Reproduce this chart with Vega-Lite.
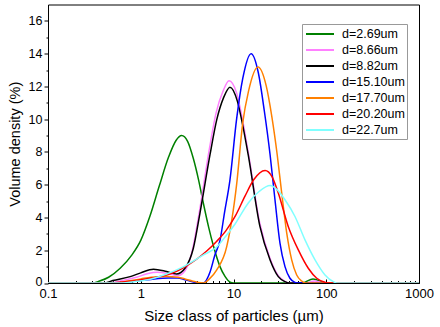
{
  "$schema": "https://vega.github.io/schema/vega-lite/v6.json",
  "autosize": "none",
  "width": 371,
  "height": 278.5,
  "padding": {"left": 48, "top": 4.5, "right": 21, "bottom": 44},
  "background": "white",
  "config": {
    "font": "Liberation Sans",
    "view": {"stroke": "black", "strokeWidth": 1},
    "axis": {"grid": false, "domainColor": "black", "tickColor": "black", "labelColor": "black", "titleColor": "black", "labelFont": "Liberation Sans", "titleFont": "Liberation Sans", "titleFontWeight": "normal"}
  },
  "data": {"values": [
    {"s": "d=2.69um", "x": 0.1, "y": 0},
    {"s": "d=2.69um", "x": 0.3, "y": 0},
    {"s": "d=2.69um", "x": 0.36, "y": 0.12},
    {"s": "d=2.69um", "x": 0.45, "y": 0.35},
    {"s": "d=2.69um", "x": 0.6, "y": 0.9},
    {"s": "d=2.69um", "x": 0.8, "y": 1.7},
    {"s": "d=2.69um", "x": 1.0, "y": 2.6},
    {"s": "d=2.69um", "x": 1.26, "y": 4.1},
    {"s": "d=2.69um", "x": 1.58, "y": 5.9},
    {"s": "d=2.69um", "x": 2.0, "y": 7.7},
    {"s": "d=2.69um", "x": 2.4, "y": 8.7},
    {"s": "d=2.69um", "x": 2.76, "y": 9.0},
    {"s": "d=2.69um", "x": 3.2, "y": 8.65},
    {"s": "d=2.69um", "x": 3.69, "y": 7.6},
    {"s": "d=2.69um", "x": 4.2, "y": 6.3},
    {"s": "d=2.69um", "x": 4.72, "y": 4.9},
    {"s": "d=2.69um", "x": 5.4, "y": 3.4},
    {"s": "d=2.69um", "x": 6.05, "y": 2.3},
    {"s": "d=2.69um", "x": 7.15, "y": 1.0},
    {"s": "d=2.69um", "x": 8.1, "y": 0.4},
    {"s": "d=2.69um", "x": 9.2, "y": 0.05},
    {"s": "d=2.69um", "x": 10, "y": 0},
    {"s": "d=2.69um", "x": 55, "y": 0},
    {"s": "d=2.69um", "x": 72, "y": 0.25},
    {"s": "d=2.69um", "x": 100, "y": 0},
    {"s": "d=2.69um", "x": 1000, "y": 0},

    {"s": "d=8.66um", "x": 0.1, "y": 0},
    {"s": "d=8.66um", "x": 0.45, "y": 0},
    {"s": "d=8.66um", "x": 0.6, "y": 0.12},
    {"s": "d=8.66um", "x": 0.9, "y": 0.35},
    {"s": "d=8.66um", "x": 1.2, "y": 0.58},
    {"s": "d=8.66um", "x": 1.5, "y": 0.65},
    {"s": "d=8.66um", "x": 1.9, "y": 0.6},
    {"s": "d=8.66um", "x": 2.5, "y": 0.45},
    {"s": "d=8.66um", "x": 3.0, "y": 0.75},
    {"s": "d=8.66um", "x": 3.6, "y": 2.0},
    {"s": "d=8.66um", "x": 4.3, "y": 4.4},
    {"s": "d=8.66um", "x": 5.5, "y": 8.2},
    {"s": "d=8.66um", "x": 6.5, "y": 10.4},
    {"s": "d=8.66um", "x": 7.7, "y": 11.7},
    {"s": "d=8.66um", "x": 8.95, "y": 12.35},
    {"s": "d=8.66um", "x": 10.8, "y": 11.6},
    {"s": "d=8.66um", "x": 12.4, "y": 10.1},
    {"s": "d=8.66um", "x": 14.4, "y": 8.0},
    {"s": "d=8.66um", "x": 19.3, "y": 3.6},
    {"s": "d=8.66um", "x": 24.8, "y": 1.5},
    {"s": "d=8.66um", "x": 30.4, "y": 0.45},
    {"s": "d=8.66um", "x": 35.9, "y": 0.1},
    {"s": "d=8.66um", "x": 40, "y": 0},
    {"s": "d=8.66um", "x": 60, "y": 0},
    {"s": "d=8.66um", "x": 75, "y": 0.12},
    {"s": "d=8.66um", "x": 95, "y": 0},
    {"s": "d=8.66um", "x": 1000, "y": 0},

    {"s": "d=8.82um", "x": 0.1, "y": 0},
    {"s": "d=8.82um", "x": 0.4, "y": 0},
    {"s": "d=8.82um", "x": 0.5, "y": 0.15},
    {"s": "d=8.82um", "x": 0.77, "y": 0.39},
    {"s": "d=8.82um", "x": 1.0, "y": 0.62},
    {"s": "d=8.82um", "x": 1.37, "y": 0.84},
    {"s": "d=8.82um", "x": 1.9, "y": 0.7},
    {"s": "d=8.82um", "x": 2.44, "y": 0.55},
    {"s": "d=8.82um", "x": 3.0, "y": 0.9},
    {"s": "d=8.82um", "x": 3.69, "y": 2.12},
    {"s": "d=8.82um", "x": 4.36, "y": 4.3},
    {"s": "d=8.82um", "x": 5.58, "y": 7.83},
    {"s": "d=8.82um", "x": 6.6, "y": 9.97},
    {"s": "d=8.82um", "x": 7.8, "y": 11.3},
    {"s": "d=8.82um", "x": 9.16, "y": 11.95},
    {"s": "d=8.82um", "x": 11.0, "y": 11.1},
    {"s": "d=8.82um", "x": 12.5, "y": 9.7},
    {"s": "d=8.82um", "x": 14.4, "y": 7.83},
    {"s": "d=8.82um", "x": 19.3, "y": 3.44},
    {"s": "d=8.82um", "x": 24.8, "y": 1.41},
    {"s": "d=8.82um", "x": 30.4, "y": 0.39},
    {"s": "d=8.82um", "x": 35.9, "y": 0.08},
    {"s": "d=8.82um", "x": 40, "y": 0},
    {"s": "d=8.82um", "x": 1000, "y": 0},

    {"s": "d=15.10um", "x": 0.1, "y": 0},
    {"s": "d=15.10um", "x": 0.5, "y": 0},
    {"s": "d=15.10um", "x": 0.7, "y": 0.05},
    {"s": "d=15.10um", "x": 1.0, "y": 0.15},
    {"s": "d=15.10um", "x": 1.4, "y": 0.25},
    {"s": "d=15.10um", "x": 2.0, "y": 0.3},
    {"s": "d=15.10um", "x": 2.5, "y": 0.3},
    {"s": "d=15.10um", "x": 3.0, "y": 0.2},
    {"s": "d=15.10um", "x": 3.6, "y": 0.08},
    {"s": "d=15.10um", "x": 4.2, "y": 0.01},
    {"s": "d=15.10um", "x": 4.7, "y": 0},
    {"s": "d=15.10um", "x": 5.6, "y": 0.69},
    {"s": "d=15.10um", "x": 6.3, "y": 1.71},
    {"s": "d=15.10um", "x": 7.15, "y": 2.6},
    {"s": "d=15.10um", "x": 8.0, "y": 4.3},
    {"s": "d=15.10um", "x": 9.16, "y": 6.3},
    {"s": "d=15.10um", "x": 10.8, "y": 10.0},
    {"s": "d=15.10um", "x": 12.6, "y": 12.5},
    {"s": "d=15.10um", "x": 15.5, "y": 14.0},
    {"s": "d=15.10um", "x": 18.5, "y": 12.85},
    {"s": "d=15.10um", "x": 21.5, "y": 10.5},
    {"s": "d=15.10um", "x": 24.8, "y": 7.83},
    {"s": "d=15.10um", "x": 28, "y": 5.08},
    {"s": "d=15.10um", "x": 31.7, "y": 2.43},
    {"s": "d=15.10um", "x": 35.9, "y": 1.0},
    {"s": "d=15.10um", "x": 40.6, "y": 0.29},
    {"s": "d=15.10um", "x": 46, "y": 0.04},
    {"s": "d=15.10um", "x": 50, "y": 0},
    {"s": "d=15.10um", "x": 1000, "y": 0},

    {"s": "d=17.70um", "x": 0.1, "y": 0},
    {"s": "d=17.70um", "x": 0.5, "y": 0},
    {"s": "d=17.70um", "x": 0.7, "y": 0.1},
    {"s": "d=17.70um", "x": 1.0, "y": 0.25},
    {"s": "d=17.70um", "x": 1.3, "y": 0.35},
    {"s": "d=17.70um", "x": 1.9, "y": 0.39},
    {"s": "d=17.70um", "x": 2.5, "y": 0.35},
    {"s": "d=17.70um", "x": 3.0, "y": 0.25},
    {"s": "d=17.70um", "x": 3.6, "y": 0.12},
    {"s": "d=17.70um", "x": 4.2, "y": 0.03},
    {"s": "d=17.70um", "x": 4.72, "y": 0},
    {"s": "d=17.70um", "x": 5.5, "y": 0.25},
    {"s": "d=17.70um", "x": 6.6, "y": 0.8},
    {"s": "d=17.70um", "x": 8.45, "y": 2.22},
    {"s": "d=17.70um", "x": 10.8, "y": 6.0},
    {"s": "d=17.70um", "x": 12.6, "y": 9.8},
    {"s": "d=17.70um", "x": 14.5, "y": 11.7},
    {"s": "d=17.70um", "x": 18.4, "y": 13.19},
    {"s": "d=17.70um", "x": 22.5, "y": 12.05},
    {"s": "d=17.70um", "x": 26, "y": 10.1},
    {"s": "d=17.70um", "x": 29.6, "y": 7.83},
    {"s": "d=17.70um", "x": 33.1, "y": 5.49},
    {"s": "d=17.70um", "x": 37.5, "y": 3.04},
    {"s": "d=17.70um", "x": 42.4, "y": 1.41},
    {"s": "d=17.70um", "x": 48, "y": 0.49},
    {"s": "d=17.70um", "x": 54.3, "y": 0.12},
    {"s": "d=17.70um", "x": 60, "y": 0},
    {"s": "d=17.70um", "x": 1000, "y": 0},

    {"s": "d=20.20um", "x": 0.1, "y": 0},
    {"s": "d=20.20um", "x": 0.45, "y": 0},
    {"s": "d=20.20um", "x": 0.6, "y": 0.05},
    {"s": "d=20.20um", "x": 0.9, "y": 0.15},
    {"s": "d=20.20um", "x": 1.3, "y": 0.3},
    {"s": "d=20.20um", "x": 1.9, "y": 0.49},
    {"s": "d=20.20um", "x": 2.5, "y": 0.75},
    {"s": "d=20.20um", "x": 3.13, "y": 1.05},
    {"s": "d=20.20um", "x": 4.0, "y": 1.45},
    {"s": "d=20.20um", "x": 5.14, "y": 1.95},
    {"s": "d=20.20um", "x": 6.6, "y": 2.55},
    {"s": "d=20.20um", "x": 8.3, "y": 3.2},
    {"s": "d=20.20um", "x": 10.4, "y": 4.06},
    {"s": "d=20.20um", "x": 13.3, "y": 5.3},
    {"s": "d=20.20um", "x": 16.5, "y": 6.3},
    {"s": "d=20.20um", "x": 21.9, "y": 6.87},
    {"s": "d=20.20um", "x": 26, "y": 6.5},
    {"s": "d=20.20um", "x": 30.4, "y": 5.49},
    {"s": "d=20.20um", "x": 39, "y": 3.44},
    {"s": "d=20.20um", "x": 50, "y": 2.02},
    {"s": "d=20.20um", "x": 64, "y": 0.9},
    {"s": "d=20.20um", "x": 79, "y": 0.29},
    {"s": "d=20.20um", "x": 97, "y": 0.04},
    {"s": "d=20.20um", "x": 105, "y": 0},
    {"s": "d=20.20um", "x": 1000, "y": 0},

    {"s": "d=22.7um", "x": 0.1, "y": 0},
    {"s": "d=22.7um", "x": 0.6, "y": 0},
    {"s": "d=22.7um", "x": 0.9, "y": 0.1},
    {"s": "d=22.7um", "x": 1.3, "y": 0.25},
    {"s": "d=22.7um", "x": 1.9, "y": 0.55},
    {"s": "d=22.7um", "x": 2.9, "y": 1.0},
    {"s": "d=22.7um", "x": 3.6, "y": 1.3},
    {"s": "d=22.7um", "x": 4.7, "y": 1.7},
    {"s": "d=22.7um", "x": 6.6, "y": 2.2},
    {"s": "d=22.7um", "x": 8.1, "y": 2.8},
    {"s": "d=22.7um", "x": 10.4, "y": 3.6},
    {"s": "d=22.7um", "x": 14.5, "y": 4.9},
    {"s": "d=22.7um", "x": 19, "y": 5.6},
    {"s": "d=22.7um", "x": 24.8, "y": 5.95},
    {"s": "d=22.7um", "x": 29.5, "y": 5.7},
    {"s": "d=22.7um", "x": 35.9, "y": 5.08},
    {"s": "d=22.7um", "x": 46, "y": 4.06},
    {"s": "d=22.7um", "x": 59, "y": 2.63},
    {"s": "d=22.7um", "x": 75.7, "y": 1.41},
    {"s": "d=22.7um", "x": 97, "y": 0.49},
    {"s": "d=22.7um", "x": 119, "y": 0.08},
    {"s": "d=22.7um", "x": 130, "y": 0},
    {"s": "d=22.7um", "x": 1000, "y": 0}
  ]},
  "mark": {"type": "line", "interpolate": "monotone", "strokeWidth": 1.5, "clip": true},
  "encoding": {
    "x": {
      "field": "x", "type": "quantitative",
      "scale": {"type": "log", "domain": [0.1, 1000], "nice": false},
      "axis": {
        "title": "Size class of particles (µm)",
        "titleFontSize": 15,
        "titleBaseline": "middle",
        "titleY": 32,
        "values": [0.1,0.2,0.3,0.4,0.5,0.6,0.7,0.8,0.9,1,2,3,4,5,6,7,8,9,10,20,30,40,50,60,70,80,90,100,200,300,400,500,600,700,800,900,1000],
        "format": "~g",
        "labelExpr": "indexof([0.1,1,10,100,1000], datum.value) >= 0 ? datum.label : ''",
        "labelOverlap": false,
        "labelFlush": false,
        "labelFontSize": 13,
        "labelPadding": 8,
        "tickSize": {"condition": {"test": "indexof([0.1,1,10,100,1000], datum.value) >= 0", "value": -4}, "value": -2.5}
      }
    },
    "y": {
      "field": "y", "type": "quantitative",
      "scale": {"domain": [0, 17], "nice": false},
      "axis": {
        "title": "Volume density (%)",
        "titleFontSize": 14.5,
        "titleBaseline": "middle",
        "titleX": -33,
        "values": [0,1,2,3,4,5,6,7,8,9,10,11,12,13,14,15,16],
        "labelExpr": "datum.value % 2 == 0 ? datum.label : ''",
        "labelOverlap": false,
        "labelFontSize": 12.5,
        "labelPadding": 2,
        "labelOffset": {"condition": {"test": "datum.value == 0", "value": -1.5}, "value": 0},
        "tickSize": {"condition": {"test": "datum.value % 2 == 0", "value": 4}, "value": 2}
      }
    },
    "color": {
      "field": "s", "type": "nominal",
      "scale": {
        "domain": ["d=2.69um", "d=8.66um", "d=8.82um", "d=15.10um", "d=17.70um", "d=20.20um", "d=22.7um"],
        "range": ["#008000", "#FF80FF", "#000000", "#0000FF", "#FF8000", "#FF0000", "#80FFFF"]
      },
      "legend": {
        "title": null,
        "orient": "none",
        "legendX": 254,
        "legendY": 19.5,
        "fillColor": "white",
        "strokeColor": "#999999",
        "padding": 2,
        "symbolType": "M-2,0H2",
        "symbolSize": 196,
        "symbolOffset": 8,
        "symbolStrokeWidth": 2,
        "labelFontSize": 12.5,
        "labelFont": "Liberation Sans",
        "labelColor": "black",
        "labelOffset": 14,
        "rowPadding": 1
      }
    }
  }
}
